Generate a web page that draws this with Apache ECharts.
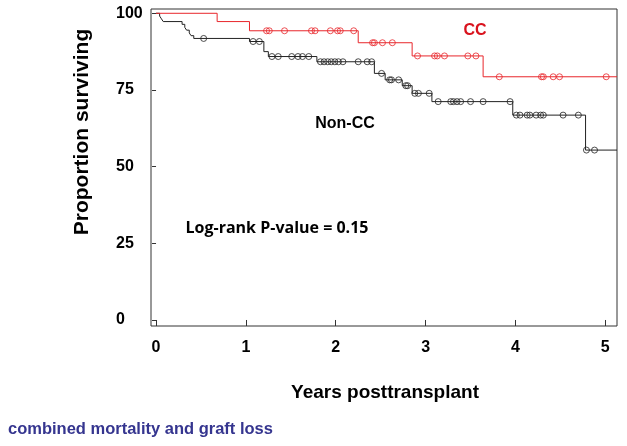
<!DOCTYPE html>
<html>
<head>
<meta charset="utf-8">
<script src="https://cdn.jsdelivr.net/npm/echarts@6/dist/echarts.min.js"></script>
<style>html,body{margin:0;padding:0;background:#fff;}#c{width:627px;height:446px;}</style>
</head>
<body>
<div id="c"></div>
<script>
// Kaplan-Meier data (years, % surviving)
const ccEventTimes = [0.68, 1.04, 2.25, 2.85, 3.64];
const ccEventSurv = [97.3, 94.3, 90.4, 86.1, 79.3];
const ccCensorTimes = [1.23, 1.26, 1.43, 1.73, 1.77, 1.94, 2.02, 2.05, 2.20, 2.41, 2.43, 2.52, 2.63, 2.91, 3.10, 3.13, 3.21, 3.47, 3.56, 3.82, 4.29, 4.31, 4.42, 4.49, 5.01];
const nonEventTimes = [0.04, 0.06, 0.08, 0.29, 0.32, 0.34, 0.37, 0.39, 0.42, 1.04, 1.20, 1.25, 1.79, 2.43, 2.55, 2.74, 2.85, 3.07, 3.97, 4.78];
const nonEventSurv = [99.1, 98.2, 97.3, 96.4, 95.4, 94.5, 93.6, 92.7, 91.8, 90.8, 87.5, 85.9, 84.2, 80.4, 78.3, 76.4, 73.9, 71.2, 66.8, 55.4];
const nonCensorTimes = [0.53, 1.08, 1.15, 1.29, 1.36, 1.51, 1.58, 1.63, 1.70, 1.83, 1.87, 1.91, 1.95, 1.99, 2.03, 2.08, 2.25, 2.35, 2.40, 2.51, 2.60, 2.62, 2.70, 2.78, 2.80, 2.88, 2.92, 3.04, 3.14, 3.28, 3.31, 3.35, 3.39, 3.50, 3.64, 3.94, 4.01, 4.05, 4.13, 4.16, 4.23, 4.28, 4.31, 4.53, 4.70, 4.79, 4.88];
const followUpEnd = 5.13;
const xTicks = [0, 1, 2, 3, 4, 5];
const yTicks = [0, 25, 50, 75, 100];

function stepData(times, surv) {
  const d = [[0, 100]];
  times.forEach((t, i) => d.push([t, surv[i]]));
  d.push([followUpEnd, surv[surv.length - 1]]);
  return d;
}
function censorData(ctimes, times, surv) {
  return ctimes.map(c => {
    let s = 100;
    times.forEach((t, i) => { if (t <= c) s = surv[i]; });
    return [c, s];
  });
}

const chart = echarts.init(document.getElementById('c'));
const F = 'Liberation Sans, Arial, sans-serif';
chart.setOption({
  animation: false,
  backgroundColor: '#fff',
  grid: { left: 151, top: 9, right: 10, bottom: 120, show: true, borderColor: '#333', borderWidth: 1 },
  xAxis: {
    type: 'value', min: -0.056, max: followUpEnd,
    axisLine: { show: false },
    splitLine: { show: false },
    axisTick: { show: true, customValues: xTicks, length: 6, lineStyle: { color: '#333' } },
    axisLabel: { customValues: xTicks, margin: 14, fontSize: 16, fontWeight: 'bold', color: '#000', fontFamily: F }
  },
  yAxis: {
    type: 'value', min: -1.96, max: 101.4,
    axisLine: { show: false },
    splitLine: { show: false },
    axisTick: { show: true, customValues: yTicks, length: 4, lineStyle: { color: '#333' } },
    axisLabel: { customValues: yTicks, margin: 35, align: 'left', fontSize: 16, fontWeight: 'bold', color: '#000', fontFamily: F }
  },
  series: [
    { type: 'line', step: 'end', data: stepData(nonEventTimes, nonEventSurv), showSymbol: false, lineStyle: { color: '#222', width: 1 }, z: 2 },
    { type: 'line', step: 'end', data: stepData(ccEventTimes, ccEventSurv), showSymbol: false, lineStyle: { color: '#e8262b', width: 1 }, z: 3 },
    { type: 'scatter', data: censorData(nonCensorTimes, nonEventTimes, nonEventSurv), symbol: 'circle', symbolSize: 6, itemStyle: { color: 'rgba(255,255,255,0)', borderColor: '#222', borderWidth: 1 }, z: 4 },
    { type: 'scatter', data: censorData(ccCensorTimes, ccEventTimes, ccEventSurv), symbol: 'circle', symbolSize: 6, itemStyle: { color: 'rgba(255,255,255,0)', borderColor: '#e8262b', borderWidth: 1 }, z: 5 }
  ],
  graphic: [
    { type: 'text', x: 82, y: 132, rotation: Math.PI / 2, style: { text: 'Proportion surviving', font: 'bold 21px ' + F, fill: '#000', align: 'center', verticalAlign: 'middle' } },
    { type: 'text', x: 385, y: 393, style: { text: 'Years posttransplant', font: 'bold 19px ' + F, fill: '#000', align: 'center', verticalAlign: 'middle' } },
    { type: 'text', x: 8, y: 429, style: { text: 'combined mortality and graft loss', font: 'bold 16.5px ' + F, fill: '#35358f', align: 'left', verticalAlign: 'middle' } },
    { type: 'text', x: 475, y: 31, style: { text: 'CC', font: 'bold 16px ' + F, fill: '#d9121d', align: 'center', verticalAlign: 'middle' } },
    { type: 'text', x: 345, y: 124, style: { text: 'Non-CC', font: 'bold 16px ' + F, fill: '#000', align: 'center', verticalAlign: 'middle' } },
    { type: 'text', x: 277, y: 228, style: { text: 'Log-rank P-value = 0.15', font: 'bold 16px Open Sans, sans-serif', fill: '#000', align: 'center', verticalAlign: 'middle' } }
  ]
});
</script>
</body>
</html>
